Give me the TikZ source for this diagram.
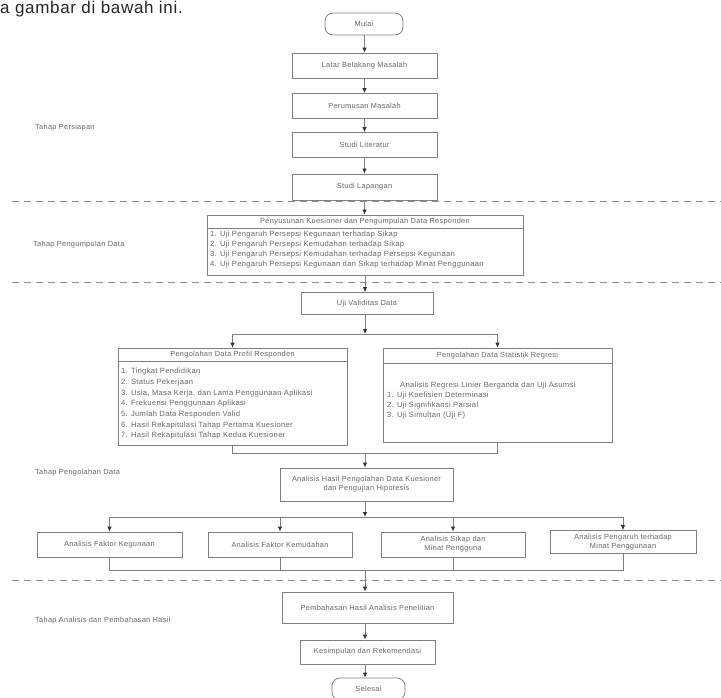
\documentclass[tikz,border=0pt]{standalone}
\usepackage{fontspec}
\setmainfont{Liberation Sans}[LetterSpace=4]
\usetikzlibrary{arrows.meta,calc}
\begin{document}
\begin{tikzpicture}[x=1pt,y=-1pt,
  line/.style={draw=black!50, line width=0.8pt},
  box/.style={draw=black!50, line width=0.8pt, rectangle, inner sep=1pt,
    font=\fontsize{7.4}{9}\selectfont, text=black!60, align=center},
  term/.style={box, rounded corners=8pt},
  arr/.style={draw=black!50, line width=0.8pt,
    -{Latex[length=5pt,width=4.5pt,color=black!80]}},
  txt/.style={font=\fontsize{7.4}{9}\selectfont, text=black!60, inner sep=0pt},
  lst/.style={txt, align=left, anchor=north west},
  lbl/.style={txt, anchor=west},
  sep/.style={draw=black!45, line width=0.8pt, dash pattern=on 7pt off 5pt}
]
\useasboundingbox (0,0) rectangle (721,697);

% caption fragment at the top
\node[anchor=west, inner sep=0pt, font=\fontsize{17}{20}\selectfont, text=black!85] (cap) at (0,9) {a gambar di bawah ini.};

% phase separators
\draw[sep] (12,201) -- (721,201);
\draw[sep] (12,282) -- (721,282);
\draw[sep] (12,580) -- (721,580);

% phase labels
\node[lbl] (ph1) at (35,128) {Tahap Persiapan};
\node[lbl] (ph2) at (33,245) {Tahap Pengumpulan Data};
\node[lbl] (ph3) at (35,473) {Tahap Pengolahan Data};
\node[lbl] (ph4) at (35,621) {Tahap Analisis dan Pembahasan Hasil};

% preparation steps
\node[term, minimum width=78pt, minimum height=22pt] (start) at (364,24) {Mulai};
\node[box, minimum width=145pt, minimum height=25pt] (b1) at (364.5,65.5) {Latar Belakang Masalah};
\node[box, minimum width=145pt, minimum height=25pt] (b2) at (364.5,106) {Perumusan Masalah};
\node[box, minimum width=145pt, minimum height=25pt] (b3) at (364.5,145) {Studi Literatur};
\node[box, minimum width=145pt, minimum height=26pt] (b4) at (364.5,187) {Studi Lapangan};

% data collection
\node[box, minimum width=316pt, minimum height=60pt] (pk) at (365,245) {};
\node[txt] (pkh) at (365,222) {Penyusunan Kuesioner dan Pengumpulan Data Responden};
\draw[line] ($(pk.north west)+(0,14)$) -- ($(pk.north east)+(0,14)$);
\node[lst, font=\fontsize{7.6}{10}\selectfont] (pki) at (210,231) {%
1. Uji Pengaruh Persepsi Kegunaan terhadap Sikap\\
2. Uji Pengaruh Persepsi Kemudahan terhadap Sikap\\
3. Uji Pengaruh Persepsi Kemudahan terhadap Persepsi Kegunaan\\
4. Uji Pengaruh Persepsi Kegunaan dan Sikap terhadap Minat Penggunaan};

% data processing
\node[box, minimum width=132pt, minimum height=22pt] (uji) at (367,303.5) {Uji Validitas Data};
\coordinate (s1) at (365,334);
\coordinate (sl) at (232.5,334);
\coordinate (sr) at (497.5,334);

\node[box, minimum width=229pt, minimum height=97pt] (pl) at (232.5,396.5) {};
\node[txt] (plh) at (232.5,355) {Pengolahan Data Profil Responden};
\draw[line] ($(pl.north west)+(0,14)$) -- ($(pl.north east)+(0,14)$);
\node[lst, font=\fontsize{7.6}{10.7}\selectfont] (pli) at (121,368) {%
1. Tingkat Pendidikan\\
2. Status Pekerjaan\\
3. Usia, Masa Kerja, dan Lama Penggunaan Aplikasi\\
4. Frekuensi Penggunaan Aplikasi\\
5. Jumlah Data Responden Valid\\
6. Hasil Rekapitulasi Tahap Pertama Kuesioner\\
7. Hasil Rekapitulasi Tahap Kedua Kuesioner};

\node[box, minimum width=229pt, minimum height=94pt] (pr) at (497.5,395) {};
\node[txt] (prh) at (497.5,356) {Pengolahan Data Statistik Regresi};
\draw[line] ($(pr.north west)+(0,16)$) -- ($(pr.north east)+(0,16)$);
\node[lst, font=\fontsize{7.6}{10}\selectfont] (pri) at (387,382) {%
\hspace*{13pt}Analisis Regresi Linier Berganda dan Uji Asumsi\\
1. Uji Koefisien Determinasi\\
2. Uji Signifikansi Parsial\\
3. Uji Simultan (Uji F)};

\coordinate (m1) at (365,453);

\node[box, minimum width=173pt, minimum height=33pt] (an) at (366.5,484.5)
  {Analisis Hasil Pengolahan Data Kuesioner\\dan Pengujian Hipotesis};

% analysis branches
\coordinate (s2) at (365,517);
\node[box, minimum width=145pt, minimum height=25pt] (r1) at (109.5,544.5) {Analisis Faktor Kegunaan};
\node[box, minimum width=144pt, minimum height=25pt] (r2) at (280,544.5) {Analisis Faktor Kemudahan};
\node[box, minimum width=144pt, minimum height=25pt] (r3) at (453,544.5) {Analisis Sikap dan\\Minat Pengguna};
\node[box, minimum width=146pt, minimum height=23pt] (r4) at (623,542) {Analisis Pengaruh terhadap\\Minat Penggunaan};
\coordinate (m2) at (365,570);

% conclusion
\node[box, minimum width=171pt, minimum height=31pt] (f1) at (367.5,607.5) {Pembahasan Hasil Analisis Penelitian};
\node[box, minimum width=135pt, minimum height=24pt] (f2) at (367.5,652) {Kesimpulan dan Rekomendasi};
\node[term, minimum width=73pt, minimum height=22pt] (stop) at (368.5,689) {Selesai};

% main flow
\draw[arr] (start.south -| b1.north) -- (b1.north);
\draw[arr] (b1) -- (b2);
\draw[arr] (b2) -- (b3);
\draw[arr] (b3) -- (b4);
\draw[arr] (b4.south) -- (b4.south |- pk.north);
\draw[arr] (pk.south -| s1) -- (s1 |- uji.north);
\draw[arr] (uji.south -| s1) -- (s1);
\draw[line] (sl) -- (sr);
\draw[arr] (sl) -- (pl.north);
\draw[arr] (sr) -- (pr.north);
\draw[line] (pl.south) |- (m1);
\draw[line] (pr.south) |- (m1);
\draw[arr] (m1) -- (m1 |- an.north);
\draw[arr] (an.south -| s2) -- (s2);
\draw[line] (s2 -| r1.north) -- (s2 -| r4.north);
\draw[arr] (s2 -| r1.north) -- (r1.north);
\draw[arr] (s2 -| r2.north) -- (r2.north);
\draw[arr] (s2 -| r3.north) -- (r3.north);
\draw[arr] (s2 -| r4.north) -- (r4.north);
\draw[line] (r1.south) |- (m2);
\draw[line] (r2.south) -- (r2.south |- m2);
\draw[line] (r3.south) -- (r3.south |- m2);
\draw[line] (r4.south) |- (m2);
\draw[arr] (m2) -- (m2 |- f1.north);
\draw[arr] (f1.south -| m2) -- (m2 |- f2.north);
\draw[arr] (f2.south -| m2) -- (m2 |- stop.north);
\end{tikzpicture}
\end{document}
